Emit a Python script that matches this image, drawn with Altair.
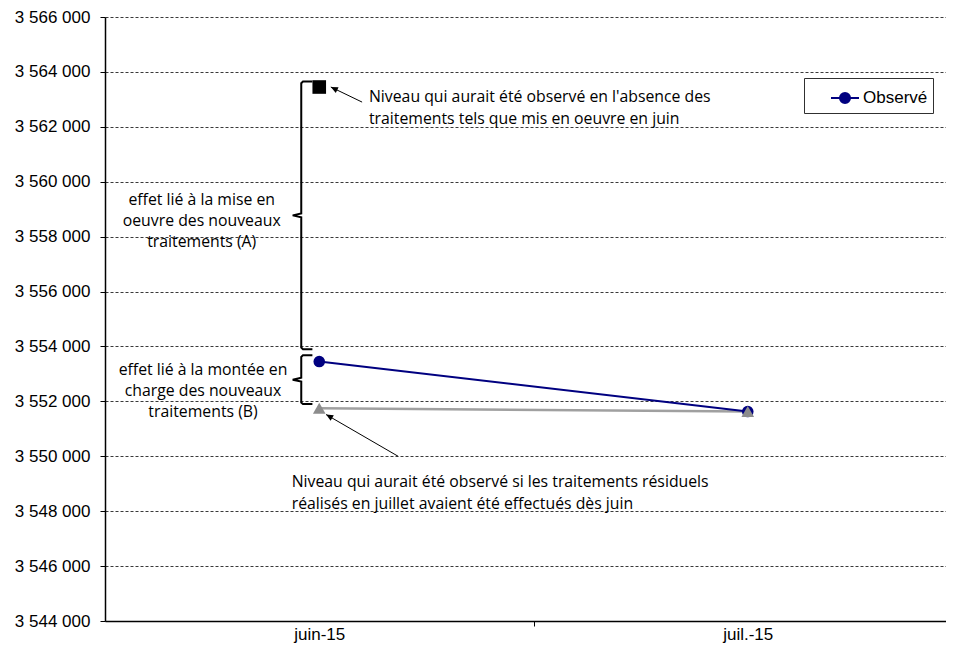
import math
import altair as alt
import pandas as pd

# ---------------- data ----------------
categories = ["juin-15", "juil.-15"]
observe = [3553450, 3551630]            # Observé (navy, circles)
residuels_des_juin = [3551750, 3551630]  # grey triangles
sans_traitements = [3563450]             # black square (June only)
y_ticks = [3544000, 3546000, 3548000, 3550000, 3552000, 3554000,
           3556000, 3558000, 3560000, 3562000, 3564000, 3566000]
legend_label = "Observé"

txt_absence = ["Niveau qui aurait été observé en l'absence des",
               "traitements tels que mis en oeuvre en juin"]
txt_residuels = ["Niveau qui aurait été observé si les traitements résiduels",
                 "réalisés en juillet avaient été effectués dès juin"]
txt_A = ["effet lié à la mise en", "oeuvre des nouveaux", "traitements (A)"]
txt_B = ["effet lié à la montée en", "charge des nouveaux", "traitements (B)"]

# ---------------- layout / style ----------------
W, H = 841, 604          # visible plot area
X_RANGE = 857            # x scale keeps running past the right edge, as in the original
Y_MIN, Y_MAX = 3544000, 3566000
NAVY = "#000080"
GREY = "#a0a0a0"
AXIS_FONT = "Liberation Sans"
NOTE_FONT = "Open Sans"
NOTE_SIZE = 15.8

xpos = [i + 0.5 for i in range(len(categories))]

xs = alt.Scale(domain=[0, len(categories)], range=[0, X_RANGE], nice=False, zero=False)
ys = alt.Scale(domain=[Y_MIN, Y_MAX], nice=False, zero=False)

half_band = X_RANGE / len(categories) / 2
label_expr = "[" + ",".join("'%s'" % c for c in categories) + "][floor(datum.value)]"

x_axis = alt.Axis(values=xpos, labelExpr=label_expr, title=None, grid=False,
                  domainColor="black", domainWidth=1.5, tickColor="black",
                  tickSize=5, tickWidth=1, tickOffset=half_band,
                  labelOffset=-half_band, labelFont=AXIS_FONT, labelFontSize=17,
                  labelColor="black", labelPadding=0)
y_axis = alt.Axis(values=y_ticks,
                  labelExpr="replace(replace(format(datum.value, ',d'), ',', ' '), ',', ' ')",
                  title=None, grid=True, gridDash=[3, 2], gridColor="#3a3a3a",
                  gridWidth=1, domainColor="black", domainWidth=1.5,
                  tickColor="black", tickSize=5, labelFont=AXIS_FONT,
                  labelFontSize=17, labelColor="black", labelPadding=10)


def X(field="x"):
    return alt.X(f"{field}:Q", scale=xs, axis=x_axis)


def Y(field="y"):
    return alt.Y(f"{field}:Q", scale=ys, axis=y_axis)


obs_df = pd.DataFrame({"x": xpos, "y": observe, "serie": legend_label})
tri_df = pd.DataFrame({"x": xpos, "y": residuels_des_juin})
sq_df = pd.DataFrame({"x": xpos[:1], "y": sans_traitements})

tri_line = alt.Chart(tri_df).mark_line(color=GREY, strokeWidth=2.5).encode(x=X(), y=Y())

legend_path = "M-1,0H1M0.36,0A0.36,0.36,0,1,1,-0.36,0A0.36,0.36,0,1,1,0.36,0Z"
obs_line = alt.Chart(obs_df).mark_line(strokeWidth=2).encode(
    x=X(), y=Y(),
    color=alt.Color("serie:N", scale=alt.Scale(domain=[legend_label], range=[NAVY]),
                    legend=alt.Legend(title=None, orient="none", legendX=699, legendY=61,
                                      padding=5, strokeColor="#303030", fillColor="white",
                                      symbolType=legend_path, symbolSize=784,
                                      symbolStrokeWidth=2, symbolFillColor=NAVY,
                                      symbolStrokeColor=NAVY, symbolOffset=21,
                                      labelFont=AXIS_FONT, labelFontSize=17,
                                      labelColor="black", labelOffset=3)),
)
obs_pts = alt.Chart(obs_df).mark_point(shape="circle", filled=True, size=135,
                                       color=NAVY, opacity=1).encode(x=X(), y=Y())
tri_pts = alt.Chart(tri_df).mark_point(shape="triangle-up", filled=True, size=160,
                                       color="#8c8c8c", opacity=1).encode(x=X(), y=Y())
sq_pts = alt.Chart(sq_df).mark_point(shape="square", filled=True, size=185,
                                     color="black", opacity=1).encode(x=X(), y=Y())

# ---------------- braces ----------------
x0 = xpos[0]
xv, xt, xh = x0 - 0.042, x0 - 0.062, x0 - 0.016
braces = [
    ("A", sans_traitements[0] + 200, observe[0] + 450),
    ("B", observe[0] + 230, residuels_des_juin[0] + 150),
]
rows = []
for name, top, bot in braces:
    mid = (top + bot) / 2
    pts = [(xh, top), (xv + 0.004, top), (xv, top - 60), (xv, mid + 70), (xt, mid),
           (xv, mid - 70), (xv, bot + 60), (xv + 0.004, bot), (xh, bot)]
    for o, (px, py) in enumerate(pts):
        rows.append({"brace": name, "o": o, "x": px, "y": py})
brace_df = pd.DataFrame(rows)
brace_lines = alt.Chart(brace_df).mark_line(color="black", strokeWidth=2).encode(
    x=X(), y=Y(), detail="brace:N", order="o:Q")

# ---------------- arrows ----------------
px_per_x = X_RANGE / len(categories)
px_per_y = H / (Y_MAX - Y_MIN)
arrows = [
    (0.600, 3562900, 0.527, sans_traitements[0]),
    (0.684, 3550000, 0.516, 3551520),
]
arows = []
for tx, ty, hx, hy in arrows:
    dx = (hx - tx) * px_per_x
    dy = -(hy - ty) * px_per_y
    ang = math.degrees(math.atan2(dx, -dy)) % 360
    arows.append({"x": tx, "y": ty, "x2": hx, "y2": hy, "ang": ang})
arrow_df = pd.DataFrame(arows)
arrow_lines = alt.Chart(arrow_df).mark_rule(color="black", strokeWidth=1).encode(
    x=X(), y=Y(), x2="x2:Q", y2="y2:Q")
arrow_heads = alt.Chart(arrow_df).mark_point(
    shape="M0,0L-0.45,1L0.45,1Z", filled=True, color="black", size=200, opacity=1
).encode(x=X("x2"), y=Y("y2"), angle=alt.Angle("ang:Q", scale=None))

# ---------------- notes (anchored on their first line) ----------------
notes = pd.DataFrame([
    {"x": 0.616, "y": 3563080, "t": "\n".join(txt_absence), "a": "left"},
    {"x": 0.4357, "y": 3549080, "t": "\n".join(txt_residuels), "a": "left"},
    {"x": 0.2257, "y": 3559320, "t": "\n".join(txt_A), "a": "center"},
    {"x": 0.2287, "y": 3553150, "t": "\n".join(txt_B), "a": "center"},
])
notes_left = alt.Chart(notes[notes.a == "left"]).mark_text(
    align="left", baseline="middle", font=NOTE_FONT, fontSize=NOTE_SIZE,
    lineBreak="\n", lineHeight=22, color="black").encode(x=X(), y=Y(), text="t:N")
notes_center = alt.Chart(notes[notes.a == "center"]).mark_text(
    align="center", baseline="middle", font=NOTE_FONT, fontSize=NOTE_SIZE,
    lineBreak="\n", lineHeight=21, color="black").encode(x=X(), y=Y(), text="t:N")

chart = alt.layer(
    tri_line, obs_line, obs_pts, tri_pts, sq_pts,
    brace_lines, arrow_lines, arrow_heads, notes_left, notes_center,
).properties(
    width=W, height=H,
    autosize=alt.AutoSizeParams(type="none"),
    padding={"left": 97, "top": 9, "right": 0, "bottom": 22},
    background="white",
).configure_view(stroke=None)

chart.save("out.html", embed_options={"renderer": "svg", "actions": False})
